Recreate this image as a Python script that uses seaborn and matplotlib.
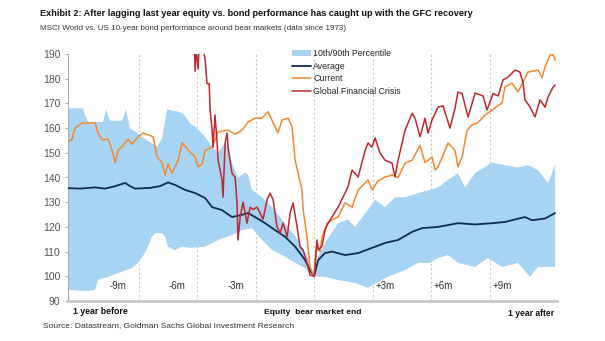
import numpy as np
import pandas as pd
import matplotlib
matplotlib.use("Agg")
import matplotlib.pyplot as plt
import seaborn as sns
from matplotlib.patches import Patch
from matplotlib.lines import Line2D

# ---------------- data (x in months relative to bear market end) ----------------
upper_x = [-12.62, -11.85, -11.74, -11.59, -10.82, -10.67, -10.46, -9.85, -9.64, -9.44, -9.08,
           -8.56, -8.05, -7.79, -7.54, -7.13, -6.72, -6.36, -6.10, -5.59, -5.23, -4.92, -4.56,
           -4.41, -4.21, -3.90, -3.54, -3.38, -3.18, -2.67, -2.15, -1.49, -0.82, -0.21, 0.0,
           0.21, 0.56, 1.23, 1.74, 2.10, 2.77, 3.13, 3.64, 4.15, 4.67, 5.33, 5.95, 6.36, 6.87,
           7.38, 7.74, 8.26, 8.92, 9.13, 9.79, 10.46, 10.97, 11.49, 12.00, 12.36]
upper_y = [168, 168, 165, 162.5, 162.5, 167.5, 163, 163, 167.5, 160, 158,
           155, 152.5, 156, 167.5, 167, 166, 162, 160.6, 156.5, 152.5, 150, 154,
           152, 145.8, 140, 142, 141, 135, 132, 128, 121.5, 114.7, 105.4, 100,
           108, 113.5, 121.5, 123, 120, 127, 131, 128, 132, 132, 133.7, 135, 136, 139,
           141.8, 136, 141.8, 145, 146, 145, 144, 145, 143, 137.7, 145]
lower_x = [-12.62, -11.74, -11.23, -11.08, -10.56, -10.05, -9.33, -9.03, -8.67, -8.31, -8.15,
           -7.79, -7.64, -7.49, -7.13, -6.77, -6.36, -5.59, -4.92, -4.21, -3.69, -3.18, -2.67,
           -2.15, -1.49, -0.97, -0.46, -0.21, 0.0, 0.56, 1.23, 2.10, 2.77, 3.13, 3.79, 4.67,
           5.33, 5.95, 6.36, 6.87, 7.38, 8.26, 8.92, 9.64, 10.46, 11.08, 11.49, 12.36]
lower_y = [94.5, 94, 94.5, 98.5, 99.8, 101.3, 103.4, 105.4, 109.4, 116, 117.5,
           117.5, 116, 112, 110.6, 112, 111.5, 112, 114.7, 116.7, 118.7, 119.5, 114.7,
           110.6, 108, 105.4, 103.4, 101.3, 100, 99.8, 98.5, 97.3, 95.3, 97, 99.8, 102.5,
           105.4, 105.4, 107.4, 108.6, 105.4, 103.8, 107.4, 103.8, 105.4, 99.8, 103.8, 103.8]

avg_x = [-12.62, -12.0, -11.23, -10.72, -10.2, -9.69, -9.44, -9.18, -8.41, -7.9, -7.49, -7.13,
         -6.62, -6.10, -5.59, -5.23, -4.72, -4.21, -3.90, -3.38, -3.03, -2.51, -2.0, -1.49,
         -0.97, -0.46, -0.21, 0.0, 0.21, 0.56, 0.92, 1.59, 2.26, 2.97, 3.64, 4.31, 5.03, 5.54,
         6.36, 7.38, 8.26, 9.13, 9.79, 10.82, 11.18, 11.85, 12.36]
avg_y = [135.7, 135.5, 136, 135.5, 136.5, 137.8, 136.5, 135.5, 135.8, 136.5, 138, 137,
         135, 133.7, 131.7, 128, 126.8, 124, 124.5, 125.6, 124, 121.5, 118.7, 116,
         112, 106.6, 102.6, 100, 106.6, 109.4, 110, 108.6, 109.4, 111.5, 113.5, 114.7, 118, 119.5,
         120, 121.5, 121, 121.5, 122, 124, 122.7, 123.4, 125.6]

cur_x = [-12.62, -12.41, -12.26, -11.9, -11.23, -11.08, -10.87, -10.56, -10.36, -10.2, -10.05,
         -9.85, -9.54, -9.33, -9.03, -8.77, -8.41, -8.26, -8.05, -7.79, -7.64, -7.49, -7.28,
         -6.97, -6.77, -6.36, -6.10, -5.95, -5.74, -5.59, -5.23, -4.92, -4.41, -4.05, -3.69,
         -3.38, -3.03, -2.67, -2.36, -2.0, -1.85, -1.64, -1.33, -1.13, -0.97, -0.82, -0.62,
         -0.56, -0.36, -0.21, 0.0, 0.05, 0.15, 0.31, 0.41, 0.67, 0.92, 1.23, 1.59, 1.95, 2.26,
         2.62, 2.77, 2.97, 3.28, 3.64, 4.0, 4.31, 4.67, 5.03, 5.44, 5.69, 6.05, 6.21, 6.36,
         6.72, 6.87, 7.23, 7.38, 7.59, 7.85, 8.10, 8.41, 8.77, 9.13, 9.64, 9.79, 10.15, 10.46,
         10.82, 10.97, 11.49, 11.69, 11.85, 12.10, 12.26, 12.36]
cur_y = [154.4, 155.5, 160, 162, 162.2, 158, 155.3, 155.5, 151, 146, 151,
         152.5, 155.5, 153.5, 156.5, 158, 157, 156.5, 148.3, 146, 141, 145.5, 141.8,
         147, 154, 150.3, 148.3, 144.3, 145.5, 151, 152.3, 158.5, 159.2, 157.5, 159.2,
         162.5, 164, 164, 166.6, 160.5, 158, 163.3, 164, 160.5, 147, 141.8, 135,
         126.8, 116, 103.8, 100, 106, 113.5, 110, 116, 121.5, 122.8, 124, 129.7, 128, 135,
         137.8, 139, 135, 138.6, 140.2, 141, 140, 145.8, 147, 153, 146, 148.3, 143, 144.3,
         151, 154, 151, 144.3, 148.3, 159.2, 161.3, 162.2, 165.3, 167.3, 170.2, 176.6, 178.2, 174.6,
         180.2, 182.7, 183.5, 180.5, 184.7, 189.6, 189.6, 187.5]

gfc_x = [-6.15, -6.10, -6.05, -5.95, -5.85, -5.69, -5.59, -5.49, -5.38, -5.33, -5.23, -5.18,
         -5.08, -4.97, -4.92, -4.72, -4.67, -4.56, -4.46, -4.41, -4.21, -4.05, -3.95, -3.90,
         -3.79, -3.64, -3.44, -3.28, -3.13, -2.92, -2.77, -2.62, -2.41, -2.26, -2.10, -1.90,
         -1.74, -1.59, -1.38, -1.23, -1.08, -0.87, -0.72, -0.56, -0.36, -0.21, 0.0, 0.05, 0.15,
         0.21, 0.41, 0.56, 0.72, 0.92, 1.23, 1.59, 1.74, 1.95, 2.26, 2.62, 2.77, 2.97, 3.13,
         3.38, 3.64, 4.0, 4.15, 4.31, 4.67, 5.03, 5.18, 5.44, 5.69, 5.85, 6.05, 6.36, 6.62,
         6.97, 7.23, 7.38, 7.59, 7.90, 8.26, 8.67, 8.87, 9.18, 9.44, 9.69, 9.95, 10.31, 10.56,
         10.72, 10.82, 11.08, 11.33, 11.59, 11.85, 12.0, 12.26, 12.36]
gfc_y = [195, 183, 192, 184, 200, 192, 188, 178, 178, 167.3, 159.2, 152.3,
         165.3, 154, 147, 139, 132, 154, 158, 152.3, 141.8, 140.2, 129.7, 114.7,
         124, 130, 121.5, 128, 127, 128, 125.6, 123, 131, 133.7, 131, 120,
         117.5, 121.5, 116, 125.6, 129.7, 120, 112, 110.6, 105.4, 100.5, 100, 103.8, 114.7,
         110.6, 112.3, 118.7, 121.5, 124, 128, 133.7, 136.2, 143, 140.2, 151, 154, 152.3, 156,
         150, 147, 145.8, 140.2, 147, 159.2, 166, 164, 156.5, 164, 158, 163.3, 168.5, 169,
         160, 168, 174.6, 174, 164.5, 174.2, 173, 167.3, 174, 173, 179.5, 180.7, 183.5, 182.7,
         178.2, 171.4, 168.5, 164.5, 171.4, 168.5, 172.6, 176.6, 177.4]

y_ticks = [90, 100, 110, 120, 130, 140, 150, 160, 170, 180, 190]
month_marks = [-9, -6, -3, 0, 3, 6, 9]
month_labels = {-9: "-9m", -6: "-6m", -3: "-3m", 3: "+3m", 6: "+6m", 9: "+9m"}
legend_labels = ["10th/90th Percentile", "Average", "Current", "Global Financial Crisis"]

# ---------------- styling ----------------
sns.set_style("white")
plt.rcParams["font.family"] = ["Liberation Sans Narrow", "Liberation Sans", "DejaVu Sans"]

C_BAND = "#a6d4f2"
C_AVG = "#0f2c52"
C_CUR = "#f7862f"
C_GFC = "#c1272d"
GRAY = "#555555"

fig = plt.figure(figsize=(6.05, 3.41), dpi=100)
L, R, T, B = 68, 557, 54, 301
ax = fig.add_axes([L / 605, 1 - B / 341, (R - L) / 605, (B - T) / 341])

# band
bx = np.concatenate([upper_x, lower_x[::-1]])
by = np.concatenate([upper_y, lower_y[::-1]])
ax.fill(bx, by, color=C_BAND, lw=0, zorder=1)

for m in month_marks:
    ax.axvline(m, color="#c8c8c8", lw=0.8, ls=(0, (2, 2)), zorder=0.5)

df_avg = pd.DataFrame({"m": avg_x, "v": avg_y})
df_cur = pd.DataFrame({"m": cur_x, "v": cur_y})
df_gfc = pd.DataFrame({"m": gfc_x, "v": gfc_y})
sns.lineplot(data=df_avg, x="m", y="v", ax=ax, color=C_AVG, lw=1.3, sort=False, estimator=None, zorder=3)
sns.lineplot(data=df_cur, x="m", y="v", ax=ax, color=C_CUR, lw=1.1, sort=False, estimator=None, zorder=4)
sns.lineplot(data=df_gfc, x="m", y="v", ax=ax, color=C_GFC, lw=1.1, sort=False, estimator=None, zorder=5)

ax.set_xlim(-12.62, 12.46)
ax.set_ylim(90, 190)
ax.set_yticks(y_ticks)
ax.set_yticklabels([str(t) for t in y_ticks], fontsize=7.5, color=GRAY)
ax.set_xticks([])
ax.set_xlabel("")
ax.set_ylabel("")
ax.tick_params(axis="y", length=2.5, width=0.6, color="#999999", pad=3, left=True)
for s in ["top", "right"]:
    ax.spines[s].set_visible(False)
ax.spines["left"].set_color("#aaaaaa")
ax.spines["left"].set_linewidth(0.7)
ax.spines["bottom"].set_color("#c8c8c8")
ax.spines["bottom"].set_linewidth(2.0)

for m, lab in month_labels.items():
    if m < 0:
        ax.text(m - 0.6, 96.1, lab, ha="right", va="center", fontsize=7, color="#333333")
    else:
        ax.text(m + 0.15, 96.1, lab, ha="left", va="center", fontsize=7, color="#333333")

# legend
handles = [Patch(facecolor=C_BAND, edgecolor="none"),
           Line2D([], [], color=C_AVG, lw=1.3),
           Line2D([], [], color=C_CUR, lw=1.1),
           Line2D([], [], color=C_GFC, lw=1.1)]
ax.legend(handles, legend_labels, loc="upper left", bbox_to_anchor=(0.451, 1.035),
          frameon=False, fontsize=6.3, handlelength=2.2, handleheight=0.6,
          handletextpad=0.2, labelspacing=0.42, borderaxespad=0)

# texts
fig.text(40 / 605, 1 - 13 / 341,
         "Exhibit 2: After lagging last year equity vs. bond performance has caught up with the GFC recovery",
         ha="left", va="center", fontsize=6.6, fontweight="bold", color="#111111")
fig.text(40 / 605, 1 - 28 / 341,
         "MSCI World vs. US 10-year bond performance around bear markets (data since 1973)",
         ha="left", va="center", fontsize=5.8, color="#333333")
fig.text(100 / 605, 1 - 312 / 341, "1 year before", ha="center", va="center",
         fontsize=6.3, fontweight="bold", color="#111111")
fig.text(313 / 605, 1 - 312 / 341, "Equity  bear market end", ha="center", va="center",
         fontsize=6.1, fontweight="bold", color="#111111")
fig.text(554 / 605, 1 - 313 / 341, "1 year after", ha="right", va="center",
         fontsize=6.2, fontweight="bold", color="#111111")
fig.text(43 / 605, 1 - 326 / 341, "Source: Datastream, Goldman Sachs Global Investment Research",
         ha="left", va="center", fontsize=6.1, color="#333333")

fig.savefig("out.png", dpi=100)
